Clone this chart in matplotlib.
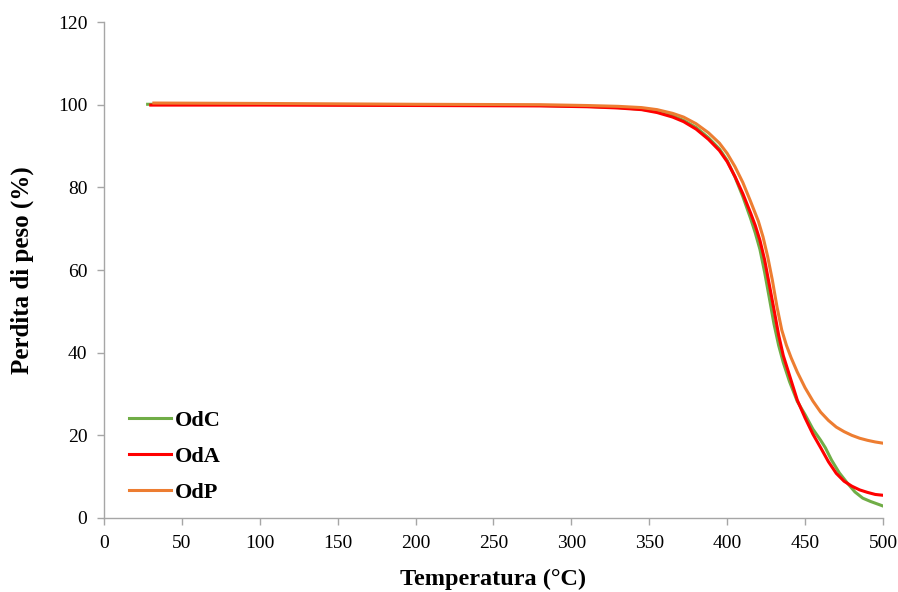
import matplotlib
matplotlib.use("Agg")
from matplotlib import pyplot as plt

# TGA curves: temperature (°C) vs residual weight (%)
temp_odc = [28, 100, 200, 280, 310, 330, 345, 355, 365, 372, 380, 388, 395, 400,
            405, 410, 415, 418, 421, 424, 427, 430, 433, 436, 440, 445, 450, 455,
            460, 463, 467, 472, 477, 482, 487, 492, 500]
peso_odc = [100.1, 100.1, 99.9, 99.8, 99.6, 99.3, 98.9, 98.3, 97.3, 96.2, 94.5,
            92.0, 89.3, 86.5, 82.5, 77.8, 72.5, 69.0, 65.0, 59.5, 53.3, 47.0, 41.8,
            37.6, 33.0, 28.2, 25.0, 21.5, 18.8, 17.0, 14.0, 10.9, 8.5, 6.3, 4.8,
            4.0, 2.9]

temp_oda = [30, 100, 200, 280, 310, 330, 345, 355, 365, 372, 380, 388, 395, 400,
            405, 410, 415, 418, 421, 424, 427, 430, 433, 436, 440, 445, 450, 455,
            460, 465, 470, 475, 480, 485, 490, 495, 500]
peso_oda = [99.9, 99.9, 99.8, 99.7, 99.5, 99.2, 98.8, 98.1, 97.0, 95.9, 94.1, 91.6,
            88.9, 86.2, 82.6, 78.5, 73.8, 70.8, 67.2, 62.5, 56.5, 50.5, 44.3, 39.3,
            34.5, 28.5, 24.2, 20.3, 17.0, 13.6, 10.8, 8.9, 7.7, 6.8, 6.2, 5.7, 5.5]

temp_odp = [32, 100, 200, 280, 310, 330, 345, 355, 365, 372, 380, 388, 395, 400,
            405, 410, 415, 420, 423, 426, 429, 432, 435, 438, 441, 445, 450, 455,
            460, 465, 470, 475, 480, 485, 490, 495, 500]
peso_odp = [100.4, 100.3, 100.1, 100.0, 99.8, 99.6, 99.3, 98.8, 97.9, 97.0, 95.4,
            93.2, 90.7, 88.2, 85.0, 81.2, 76.6, 71.8, 68.0, 63.2, 57.5, 51.0, 45.5,
            41.8, 38.8, 35.3, 31.5, 28.3, 25.6, 23.6, 22.0, 20.9, 20.0, 19.3, 18.8,
            18.4, 18.1]

x_ticks = [0, 50, 100, 150, 200, 250, 300, 350, 400, 450, 500]
y_ticks = [0, 20, 40, 60, 80, 100, 120]

plt.rcParams['font.family'] = ['Liberation Serif', 'DejaVu Serif']

fig = plt.figure(figsize=(8.98, 5.92), dpi=100)
ax = fig.add_axes([0.1158, 0.125, 0.8675, 0.8378])

ax.plot(temp_odc, peso_odc, color='#70AD47', lw=2.2, label='OdC')
ax.plot(temp_oda, peso_oda, color='#FF0000', lw=2.2, label='OdA')
ax.plot(temp_odp, peso_odp, color='#ED7D31', lw=2.2, label='OdP')

ax.set_xlim(0, 500)
ax.set_ylim(0, 120)
ax.set_xticks(x_ticks)
ax.set_yticks(y_ticks)

for side in ('top', 'right'):
    ax.spines[side].set_visible(False)
for side in ('left', 'bottom'):
    ax.spines[side].set_color('#A6A6A6')
    ax.spines[side].set_linewidth(1.0)
ax.tick_params(colors='#A6A6A6', length=5, width=1.0, labelcolor='black',
               labelsize=14, direction='out', pad=7)

ax.set_xlabel('Temperatura (°C)', fontsize=17.5, fontweight='bold', va='center')
ax.set_ylabel('Perdita di peso (%)', fontsize=18, fontweight='bold', va='center')
ax.xaxis.set_label_coords(0.5, -0.123)
ax.yaxis.set_label_coords(-0.105, 0.5)

ax.legend(loc='lower left', bbox_to_anchor=(0.006, -0.01), frameon=False,
          prop={'weight': 'bold', 'size': 16}, handlelength=1.9,
          handletextpad=0.2, labelspacing=0.69)

fig.savefig('out.png', dpi=100)
